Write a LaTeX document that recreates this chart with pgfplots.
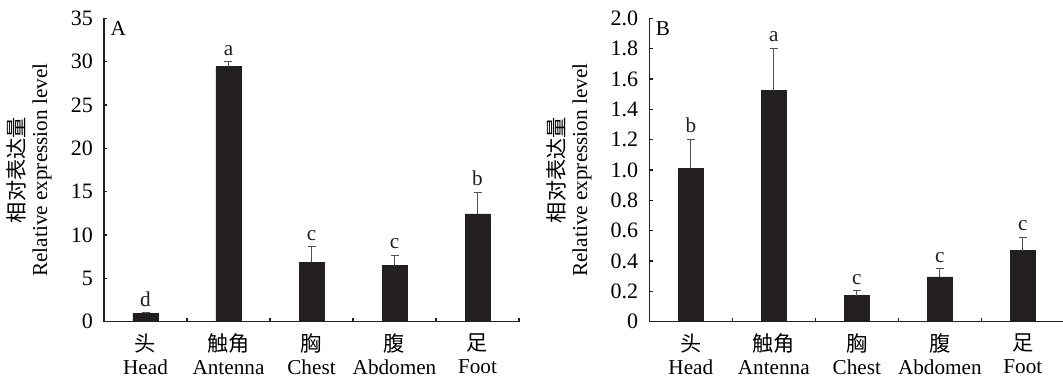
\documentclass[border=0pt]{standalone}
\usepackage{fontspec}
\setmainfont{Liberation Serif}
\newfontfamily\cjk{Noto Sans CJK SC}
\usepackage{pgfplots}
\pgfplotsset{compat=1.18}
\definecolor{barc}{HTML}{231F20}
\definecolor{errc}{HTML}{505050}
\newcommand{\lbl}{\fontsize{10.6}{11.5}\selectfont}
\newcommand{\tkl}{\fontsize{11}{12}\selectfont}
\pgfplotsset{
  panel/.style={
    scale only axis, width=207.5pt, height=151.67pt,
    axis x line*=bottom, axis y line*=left,
    xmin=-0.5, xmax=4.5, ymin=0,
    xtick={-0.5,0.5,1.5,2.5,3.5,4.5},
    x tick label as interval,
    xticklabels={{\cjk 头}\\Head,{\cjk 触角}\\Antenna,{\cjk 胸}\\Chest,{\cjk 腹}\\Abdomen,{\cjk 足}\\Foot,{}},
    tick align=inside, major tick length=1.75pt,
    tick style={color=barc, line width=0.6pt},
    axis line style={color=barc, line width=0.6pt},
    xticklabel style={align=center, font=\lbl, yshift=-2.5pt},
    yticklabel style={font=\tkl, xshift=-2pt},
    ylabel={{\cjk 相对表达量}\\Relative expression level},
    ylabel style={align=center, font=\lbl, anchor=south, inner sep=0pt},
    clip=false,
  },
  bars/.style={ybar, bar width=12.5pt, fill=barc, draw=barc,
    error bars/.cd, y dir=plus, y explicit,
    error bar style={color=errc, line width=0.6pt},
    error mark options={rotate=90, color=errc, mark size=2pt, line width=0.6pt}},
  letters/.style={draw=none, mark=none, nodes near coords, point meta=explicit symbolic,
    nodes near coords style={anchor=south, inner sep=0pt, yshift=3pt, font=\lbl, text=barc}},
}
\begin{document}
\begin{tikzpicture}
\useasboundingbox (-52pt,-27.65pt) rectangle (479.5pt,160.85pt);
\begin{axis}[panel, at={(0,0)}, anchor=south west, ymax=35,
  ytick={0,5,10,15,20,25,30,35},
  yticklabels={0,5,10,15,20,25,30,35},
  ylabel style={at={(axis description cs:-0.125,0.5)}}]
\addplot[bars] coordinates {
  (0,0.97) +- (0,0.08)
  (1,29.42) +- (0,0.58)
  (2,6.85) +- (0,1.80)
  (3,6.54) +- (0,1.12)
  (4,12.43) +- (0,2.50)
};
\addplot[letters] coordinates {
  (0,1.05) [d]
  (1,30.0) [a]
  (2,8.65) [c]
  (3,7.66) [c]
  (4,14.93) [b]
};
\node[anchor=north west, font=\lbl, inner sep=0pt] at (rel axis cs:0.015,0.99) {A};
\end{axis}
\begin{axis}[panel, at={(272.65pt,0)}, anchor=south west, ymax=2.0,
  ytick={0,0.2,0.4,0.6,0.8,1.0,1.2,1.4,1.6,1.8,2.0},
  yticklabels={0,0.2,0.4,0.6,0.8,1.0,1.2,1.4,1.6,1.8,2.0},
  ylabel style={at={(axis description cs:-0.138,0.5)}}]
\addplot[bars] coordinates {
  (0,1.011) +- (0,0.19)
  (1,1.523) +- (0,0.28)
  (2,0.171) +- (0,0.033)
  (3,0.295) +- (0,0.055)
  (4,0.468) +- (0,0.088)
};
\addplot[letters] coordinates {
  (0,1.201) [b]
  (1,1.803) [a]
  (2,0.204) [c]
  (3,0.350) [c]
  (4,0.556) [c]
};
\node[anchor=north west, font=\lbl, inner sep=0pt] at (rel axis cs:0.015,0.99) {B};
\end{axis}
\end{tikzpicture}
\end{document}
